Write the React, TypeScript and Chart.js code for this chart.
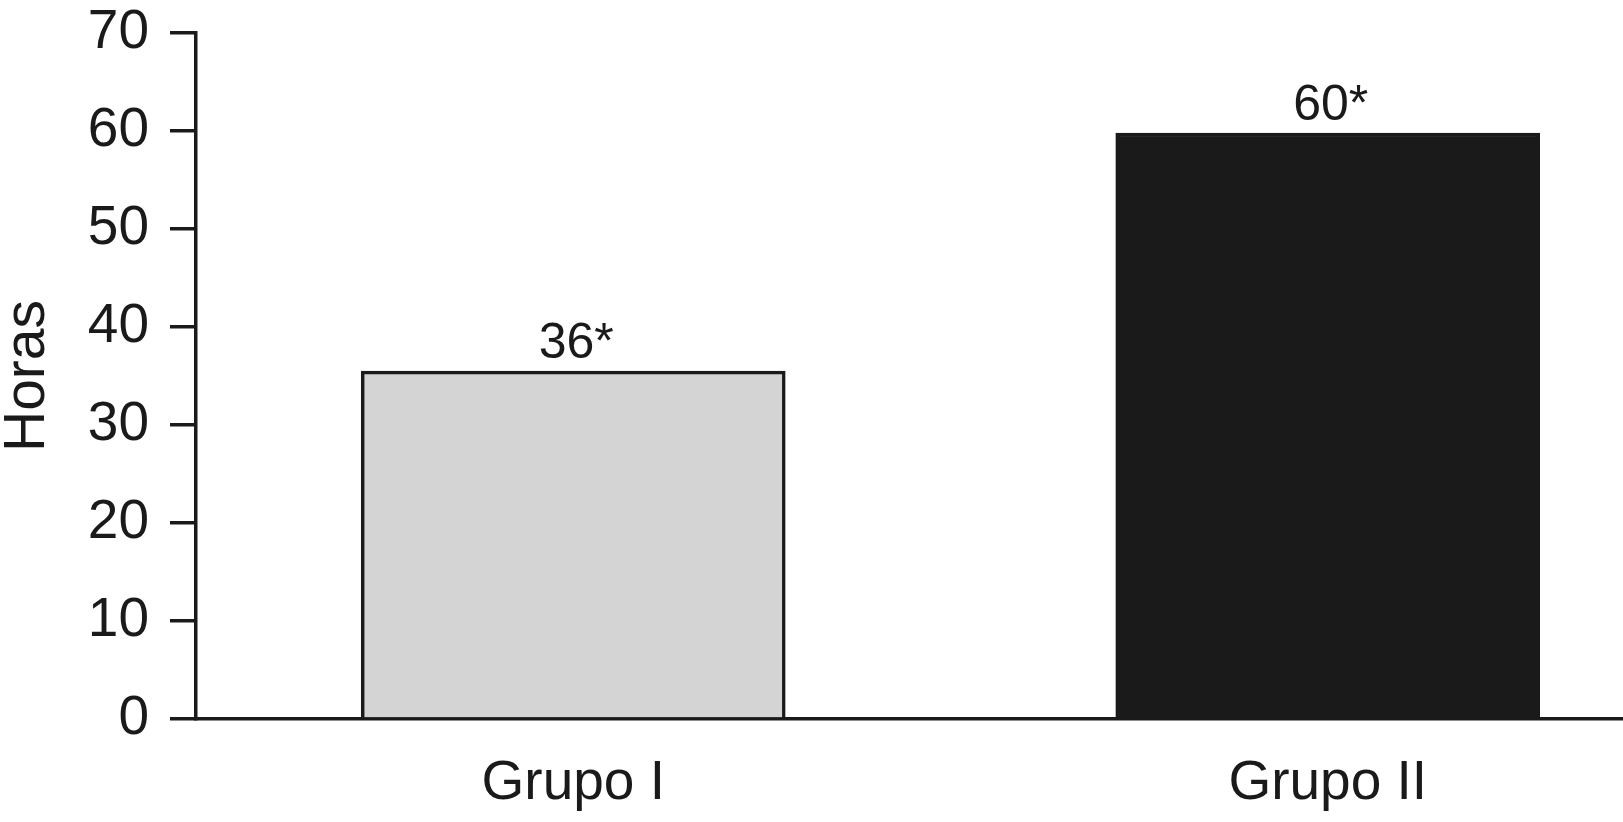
import React, { useEffect, useRef } from "react";
import { Chart, registerables } from "chart.js";

Chart.register(...registerables);

const categories = ["Grupo I", "Grupo II"];
const values = [35.5, 59.8];
const valueLabels = ["36*", "60*"];
const barColors = ["#d4d4d4", "#1a1a1a"];
const yTicks = [0, 10, 20, 30, 40, 50, 60, 70];
const yTitle = "Horas";

const INK = "#1a1a1a";
const FONT = "'Liberation Sans', Arial, sans-serif";

const valueLabelPlugin = {
  id: "valueLabels",
  afterDatasetsDraw(chart: any) {
    const ctx = chart.ctx;
    const meta = chart.getDatasetMeta(0);
    ctx.save();
    ctx.fillStyle = INK;
    ctx.font = `50px ${FONT}`;
    ctx.textAlign = "center";
    ctx.textBaseline = "alphabetic";
    meta.data.forEach((el: any, i: number) => {
      ctx.fillText(valueLabels[i], el.x + 3, el.y - 13);
    });
    ctx.restore();
  },
};

export default function App() {
  const ref = useRef<HTMLCanvasElement | null>(null);

  useEffect(() => {
    if (!ref.current) return;
    const chart = new Chart(ref.current, {
      type: "bar",
      data: {
        datasets: [
          {
            data: values.map((v, i) => ({ x: i + 1, y: v })),
            backgroundColor: barColors,
            borderColor: INK,
            borderWidth: 3.5,
            barThickness: 424,
          },
        ],
      },
      options: {
        responsive: false,
        animation: false,
        devicePixelRatio: 1,
        layout: { padding: { top: 0, left: 0, right: 0, bottom: 0 } },
        plugins: {
          legend: { display: false },
          tooltip: { enabled: false },
        },
        scales: {
          x: {
            type: "linear",
            offset: false,
            bounds: "data",
            min: 0.5,
            max: 0.5 + 1427 / 754.5,
            afterBuildTicks: (scale: any) => {
              scale.ticks = categories.map((_, i) => ({ value: i + 1 }));
            },
            afterFit: (scale: any) => {
              scale.height = 103;
              scale.paddingLeft = 0;
              scale.paddingRight = 0;
            },
            grid: { display: false, drawTicks: false, offset: false },
            border: { display: true, color: INK, width: 3.5 },
            ticks: {
              autoSkip: false,
              maxRotation: 0,
              padding: 32,
              color: INK,
              font: { family: FONT, size: 55 },
              callback: (v: any) => categories[Math.round(Number(v)) - 1] ?? "",
            },
          },
          y: {
            min: 0,
            max: 70,
            afterBuildTicks: (scale: any) => {
              scale.ticks = yTicks.map((v) => ({ value: v }));
            },
            afterFit: (scale: any) => {
              scale.width = 196;
              scale.paddingTop = 33;
              scale.paddingBottom = 0;
            },
            grid: {
              display: true,
              drawOnChartArea: false,
              drawTicks: true,
              tickLength: 26,
              tickWidth: 3.5,
              tickColor: INK,
              lineWidth: 3.5,
              color: INK,
            },
            border: { display: true, color: INK, width: 3.5 },
            ticks: {
              padding: 21,
              color: INK,
              font: { family: FONT, size: 55 },
            },
            title: {
              display: true,
              text: yTitle,
              color: INK,
              padding: 0,
              font: { family: FONT, size: 57, lineHeight: 1 },
            },
          },
        },
      },
      plugins: [valueLabelPlugin],
    });
    return () => chart.destroy();
  }, []);

  return (
    <div style={{ position: "fixed", left: 0, top: 0, width: 1623, height: 822, background: "#fff" }}>
      <canvas ref={ref} width={1623} height={822} style={{ width: 1623, height: 822 }} />
    </div>
  );
}
